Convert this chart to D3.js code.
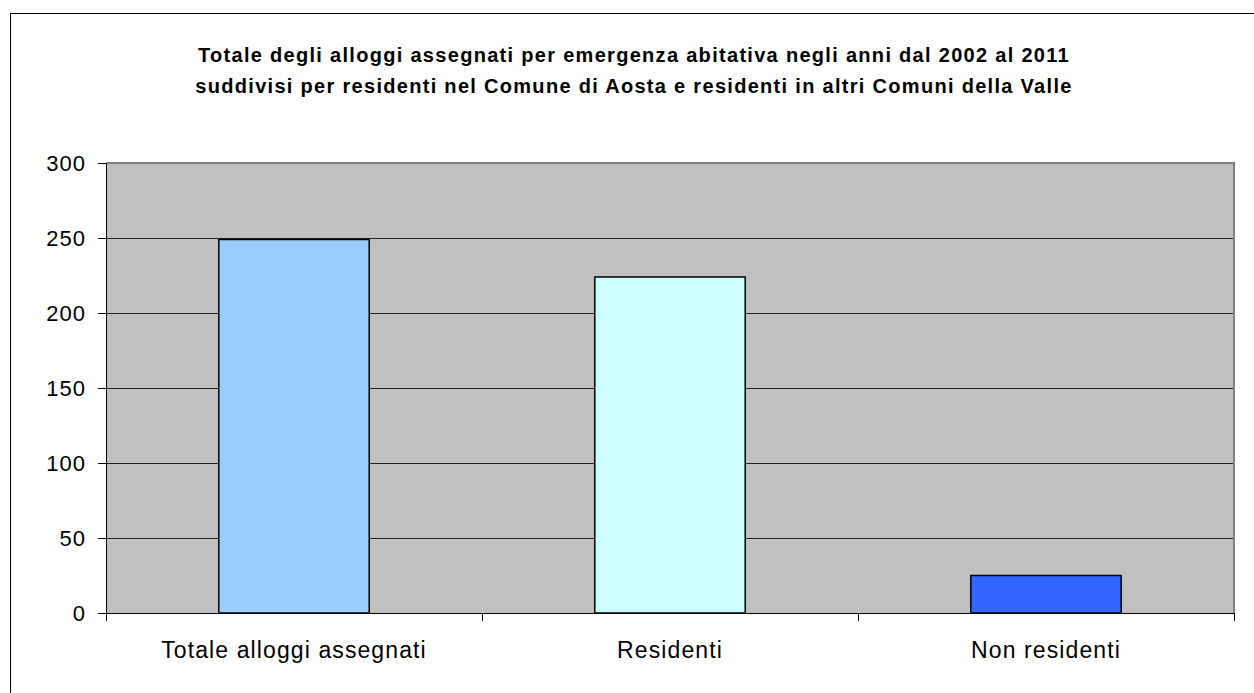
<!DOCTYPE html>
<html>
<head>
<meta charset="utf-8">
<script src="https://cdn.jsdelivr.net/npm/d3@7"></script>
<style>
  body { margin: 0; background: #fff; }
  svg { display: block; font-family: "Liberation Sans", Arial, sans-serif; }
</style>
</head>
<body>
<svg id="chart" width="1254" height="693"></svg>
<script>
// Chart data
const categories = ['Totale alloggi assegnati', 'Residenti', 'Non residenti'];
const values = [249, 224, 25];
const barColors = ['#99CCFF', '#CCFFFF', '#3366FF'];
const yTicks = [0, 50, 100, 150, 200, 250, 300];
const titleLines = [
    'Totale degli alloggi assegnati per emergenza abitativa negli anni dal 2002 al 2011',
    'suddivisi per residenti nel Comune di Aosta e residenti in altri Comuni della Valle'
];

const svg = d3.select('#chart');
const margin = { top: 163, right: 20, bottom: 80, left: 106 };
const width = 1234 - margin.left;
const height = 613 - margin.top;

// Outer chart border (runs off the picture on the right and bottom)
svg.append('rect')
    .attr('x', 10.5).attr('y', 13.5)
    .attr('width', 1260).attr('height', 700)
    .attr('fill', '#fff')
    .attr('stroke', '#000')
    .attr('stroke-width', 1);

// Title
svg.append('g')
    .selectAll('text')
    .data(titleLines)
    .join('text')
    .attr('x', 634)
    .attr('y', (d, i) => 62 + i * 31)
    .attr('text-anchor', 'middle')
    .attr('font-size', 20)
    .attr('font-weight', 'bold')
    .attr('letter-spacing', 1.3)
    .text(d => d);

const g = svg.append('g').attr('transform', `translate(${margin.left},${margin.top})`);

const x = d3.scaleBand().domain(categories).range([0, width]).paddingInner(0.6).paddingOuter(0.3);
const xEdge = d3.scaleLinear().domain([0, categories.length]).range([0, width]);
const y = d3.scaleLinear().domain([0, 300]).range([height, 0]);

// Plot area
g.append('rect')
    .attr('width', width).attr('height', height)
    .attr('fill', '#C0C0C0');

// Gridlines
g.append('g')
    .selectAll('line')
    .data(yTicks.filter(t => t > 0 && t < 300))
    .join('line')
    .attr('x1', 0).attr('x2', width)
    .attr('y1', d => Math.round(y(d)) + 0.5).attr('y2', d => Math.round(y(d)) + 0.5)
    .attr('stroke', '#222')
    .attr('stroke-width', 1);

// Plot border top and right (grey)
g.append('path')
    .attr('d', `M0,${y(300)}H${width}V${height}`)
    .attr('fill', 'none')
    .attr('stroke', '#808080')
    .attr('stroke-width', 2);

// Bars
g.append('g')
    .selectAll('rect')
    .data(values)
    .join('rect')
    .attr('x', (d, i) => x(categories[i]))
    .attr('y', d => y(d))
    .attr('width', x.bandwidth())
    .attr('height', d => height - y(d))
    .attr('fill', (d, i) => barColors[i])
    .attr('stroke', '#000')
    .attr('stroke-width', 1.5);

// Y axis
const yAxis = g.append('g')
    .call(d3.axisLeft(y).tickValues(yTicks).tickSize(8).tickPadding(12));
yAxis.select('.domain').attr('stroke', '#000');
yAxis.selectAll('.tick line').attr('stroke', '#000');
yAxis.selectAll('text')
    .attr('font-size', 22)
    .attr('letter-spacing', 1)
    .attr('fill', '#000');

// X axis: ticks at category boundaries, labels centred in each band
const xAxis = g.append('g')
    .attr('transform', `translate(0,${height})`)
    .call(d3.axisBottom(xEdge).tickValues(d3.range(0, categories.length + 1)).tickSize(8).tickFormat(''));
xAxis.select('.domain').attr('stroke', '#000');
xAxis.selectAll('.tick line').attr('stroke', '#000');

g.append('g')
    .selectAll('text')
    .data(categories)
    .join('text')
    .attr('x', d => x(d) + x.bandwidth() / 2)
    .attr('y', height + 45)
    .attr('text-anchor', 'middle')
    .attr('font-size', 23)
    .attr('letter-spacing', 1.1)
    .text(d => d);
</script>
</body>
</html>
